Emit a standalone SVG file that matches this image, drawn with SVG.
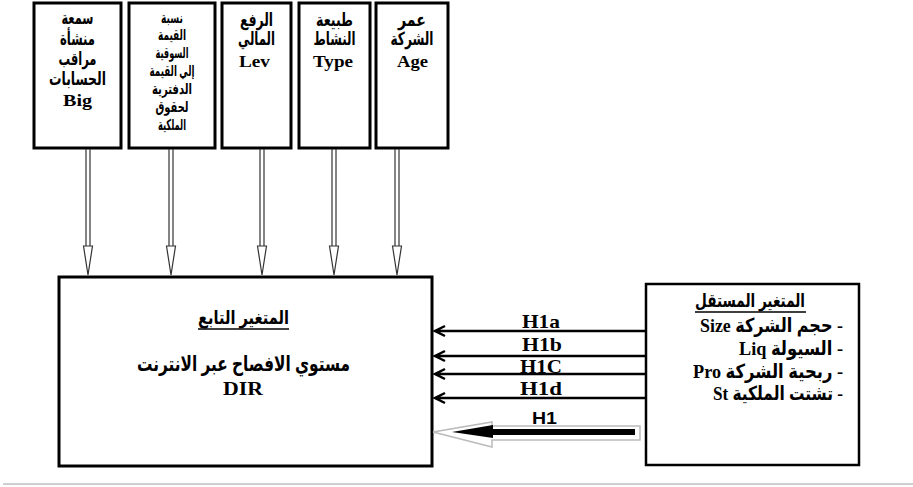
<svg xmlns="http://www.w3.org/2000/svg" width="913" height="487" viewBox="0 0 913 487">
  <style>
    .box { fill: #fff; stroke: #000; stroke-width: 3; }
    .t { font-family: "Liberation Serif", "DejaVu Sans Condensed", "DejaVu Sans", serif; font-weight: bold; fill: #000; }
    .ar { direction: rtl; }
    .top { font-size: 18px; text-anchor: middle; }
    .lat { font-size: 17px; text-anchor: middle; }
    .small { font-size: 15px; text-anchor: middle; }
    .hl { font-size: 19px; text-anchor: middle; }
    .dbl { stroke: #333; stroke-width: 1.2; fill: none; }
    .head { fill: #fff; stroke: #333; stroke-width: 1.2; }
    .h { stroke: #000; stroke-width: 2.5; fill: none; }
  </style>

  <!-- independent factor boxes (top row) -->
  <g id="big">
    <rect class="box" x="34" y="3" width="87" height="145"/>
    <text class="t top ar" x="77.5" y="24" textLength="32" lengthAdjust="spacingAndGlyphs">سمعة</text>
    <text class="t top ar" x="77.5" y="45" textLength="35" lengthAdjust="spacingAndGlyphs">منشأة</text>
    <text class="t top ar" x="77.5" y="65" textLength="38" lengthAdjust="spacingAndGlyphs">مراقب</text>
    <text class="t top ar" x="77.5" y="85" textLength="57" lengthAdjust="spacingAndGlyphs">الحسابات</text>
    <text class="t lat" x="77.5" y="106" textLength="29" lengthAdjust="spacingAndGlyphs">Big</text>
  </g>
  <g id="mtb">
    <rect class="box" x="129" y="3" width="86" height="145"/>
    <text class="t small ar" x="172" y="23" textLength="22" lengthAdjust="spacingAndGlyphs">نسبة</text>
    <text class="t small ar" x="172" y="40" textLength="28" lengthAdjust="spacingAndGlyphs">القيمة</text>
    <text class="t small ar" x="172" y="58" textLength="33" lengthAdjust="spacingAndGlyphs">السوقية</text>
    <text class="t small ar" x="172" y="76" textLength="45" lengthAdjust="spacingAndGlyphs">إلي القيمة</text>
    <text class="t small ar" x="172" y="94" textLength="40" lengthAdjust="spacingAndGlyphs">الدفترية</text>
    <text class="t small ar" x="172" y="112" textLength="33" lengthAdjust="spacingAndGlyphs">لحقوق</text>
    <text class="t small ar" x="172" y="130" textLength="28" lengthAdjust="spacingAndGlyphs">الملكية</text>
  </g>
  <g id="lev">
    <rect class="box" x="222" y="3" width="69" height="145"/>
    <text class="t top ar" x="256.5" y="26" textLength="33" lengthAdjust="spacingAndGlyphs">الرفع</text>
    <text class="t top ar" x="256.5" y="45" textLength="37" lengthAdjust="spacingAndGlyphs">المالي</text>
    <text class="t lat" x="254.5" y="67" textLength="31" lengthAdjust="spacingAndGlyphs">Lev</text>
  </g>
  <g id="type">
    <rect class="box" x="299" y="3" width="71" height="145"/>
    <text class="t top ar" x="334.5" y="26" textLength="37" lengthAdjust="spacingAndGlyphs">طبيعة</text>
    <text class="t top ar" x="334.5" y="45" textLength="42" lengthAdjust="spacingAndGlyphs">النشاط</text>
    <text class="t lat" x="333" y="67" textLength="40" lengthAdjust="spacingAndGlyphs">Type</text>
  </g>
  <g id="age">
    <rect class="box" x="376" y="3" width="72" height="145"/>
    <text class="t top ar" x="412" y="26" textLength="28" lengthAdjust="spacingAndGlyphs">عمر</text>
    <text class="t top ar" x="412" y="45" textLength="43" lengthAdjust="spacingAndGlyphs">الشركة</text>
    <text class="t lat" x="412.5" y="67" textLength="31" lengthAdjust="spacingAndGlyphs">Age</text>
  </g>

  <!-- dependent variable -->
  <g id="dependent">
    <rect class="box" x="59" y="277" width="373" height="189"/>
    <text class="t ar" x="243.5" y="324" font-size="19" text-anchor="middle" textLength="91" lengthAdjust="spacingAndGlyphs">المتغير التابع</text>
    <line x1="198" y1="329" x2="289" y2="329" stroke="#000" stroke-width="1.3"/>
    <text class="t ar" x="243.5" y="371" font-size="21" text-anchor="middle" textLength="213" lengthAdjust="spacingAndGlyphs">مستوي الافصاح عبر الانترنت</text>
    <text class="t" x="243" y="395" font-size="19" text-anchor="middle" textLength="40" lengthAdjust="spacingAndGlyphs">DIR</text>
  </g>

  <!-- independent variables -->
  <g id="independent">
    <rect class="box" x="646" y="284" width="213" height="181" style="stroke-width:2.5"/>
    <text class="t ar" x="750" y="307" font-size="19" text-anchor="middle" textLength="110" lengthAdjust="spacingAndGlyphs">المتغير المستقل</text>
    <line x1="695" y1="312" x2="806" y2="312" stroke="#000" stroke-width="1.3"/>
    <text class="t ar" x="843" y="332" font-size="19.5" text-anchor="start" textLength="143" lengthAdjust="spacingAndGlyphs">- حجم الشركة Size</text>
    <text class="t ar" x="843" y="355" font-size="19.5" text-anchor="start" textLength="104" lengthAdjust="spacingAndGlyphs">- السيولة Liq</text>
    <text class="t ar" x="843" y="378" font-size="19.5" text-anchor="start" textLength="150" lengthAdjust="spacingAndGlyphs">- ربحية الشركة Pro</text>
    <text class="t ar" x="843" y="400" font-size="19.5" text-anchor="start" textLength="130" lengthAdjust="spacingAndGlyphs">- تشتت الملكية St</text>
  </g>

  <!-- connectors -->
  <g id="connectors">
    <!-- double-line arrows from top boxes -->
    <g>
      <path class="dbl" d="M86 149V246M90 149V246"/>
      <path class="head" d="M83.5 246L88 275L92.5 246Z"/>
      <path class="dbl" d="M169 149V246M173 149V246"/>
      <path class="head" d="M166.5 246L171 275L175.5 246Z"/>
      <path class="dbl" d="M260 149V246M264 149V246"/>
      <path class="head" d="M257.5 246L262 275L266.5 246Z"/>
      <path class="dbl" d="M332 149V246M336 149V246"/>
      <path class="head" d="M329.5 246L334 275L338.5 246Z"/>
      <path class="dbl" d="M395 149V246M399 149V246"/>
      <path class="head" d="M392.5 246L397 275L401.5 246Z"/>
    </g>
    <!-- hypothesis arrows -->
    <g>
      <path class="h" d="M646 331H435M445 326L435 331L445 336"/>
      <path class="h" d="M646 356H435M445 351L435 356L445 361"/>
      <path class="h" d="M646 374H435M445 369L435 374L445 379"/>
      <path class="h" d="M646 398H435M445 393L435 398L445 403"/>
    </g>
    <text class="t hl" x="541" y="328" textLength="38" lengthAdjust="spacingAndGlyphs">H1a</text>
    <text class="t hl" x="542" y="351" textLength="40" lengthAdjust="spacingAndGlyphs">H1b</text>
    <text class="t hl" x="541" y="373" textLength="42" lengthAdjust="spacingAndGlyphs">H1C</text>
    <text class="t hl" x="541" y="395" textLength="42" lengthAdjust="spacingAndGlyphs">H1d</text>
    <!-- main hypothesis block arrow -->
    <g id="h1">
      <path d="M433 432L492 422V426H640V440H492V447Z" fill="#fff" stroke="#bbb" stroke-width="1.5"/>
      <path d="M452 432L493 425V429H635V435H493V438Z" fill="#000"/>
      <text x="544.5" y="424" font-family="Liberation Sans, Arial, sans-serif" font-weight="bold" font-size="17" text-anchor="middle" textLength="25" lengthAdjust="spacingAndGlyphs">H1</text>
    </g>
  </g>

  <line x1="3" y1="484" x2="913" y2="484" stroke="#cfcfcf" stroke-width="2"/>
</svg>
